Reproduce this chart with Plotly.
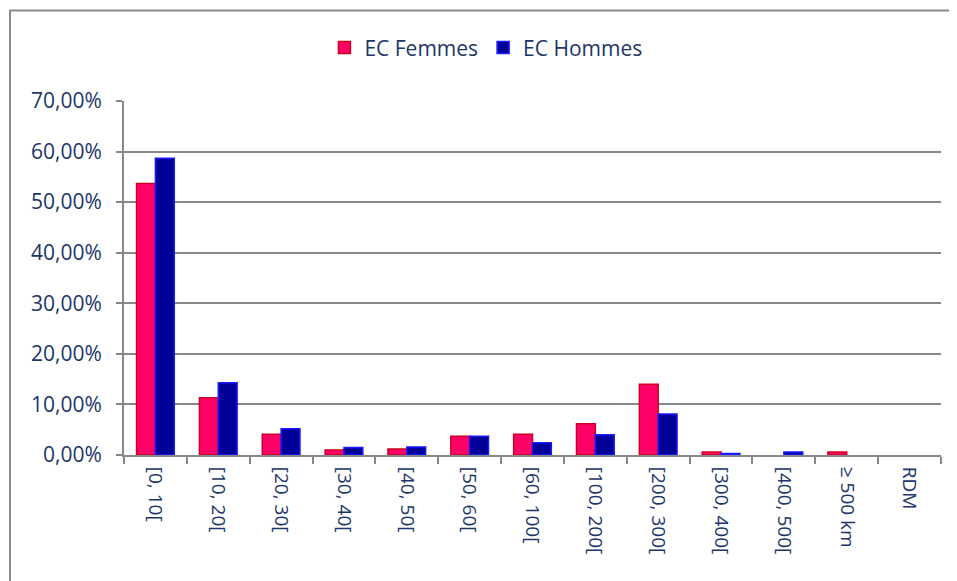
import plotly.graph_objects as go

categories = ["[0, 10[", "[10, 20[", "[20, 30[", "[30, 40[", "[40, 50[", "[50, 60[",
              "[60, 100[", "[100, 200[", "[200, 300[", "[300, 400[", "[400, 500[",
              "≥ 500 km", "RDM"]
femmes = [0.537, 0.113, 0.041, 0.010, 0.012, 0.037, 0.041, 0.062, 0.140, 0.006, 0.0, 0.006, 0.0]
hommes = [0.587, 0.143, 0.052, 0.015, 0.016, 0.037, 0.024, 0.040, 0.081, 0.003, 0.006, 0.0, 0.0]
y_ticks = [0, 0.1, 0.2, 0.3, 0.4, 0.5, 0.6, 0.7]

text_color = "#1B3668"
font_family = "Open Sans, Lato, sans-serif"

# page body has an 8px margin: compensate in figure coordinates
L, T = 116, 93
PW, PH = 817, 354
W, H = 957, 581

fig = go.Figure()
fig.add_trace(go.Bar(x=categories, y=femmes, name="EC Femmes",
                     marker=dict(color="#FF0066",
                                 line=dict(color="#CC0022", width=[1.5 if v > 0 else 0 for v in femmes]))))
fig.add_trace(go.Bar(x=categories, y=hommes, name="EC Hommes",
                     marker=dict(color="#000099",
                                 line=dict(color="#1A1AFF", width=[1.5 if v > 0 else 0 for v in hommes]))))

fig.update_layout(
    width=W, height=H,
    margin=dict(l=L, r=W - L - PW, t=T, b=H - T - PH),
    paper_bgcolor="white", plot_bgcolor="white",
    separators=", ",
    barmode="group", bargap=0.4, bargroupgap=0,
    font=dict(family=font_family, color=text_color, size=18),
    legend=dict(orientation="h", x=0.443, xanchor="center", y=1.15, yanchor="middle",
                font=dict(size=21, color=text_color), itemwidth=30, traceorder="normal"),
    showlegend=True,
)
fig.update_xaxes(
    type="category", tickangle=90, tickson="boundaries",
    ticks="outside", ticklen=7, tickcolor="#888888", tickwidth=2,
    showline=True, linecolor="#888888", linewidth=2,
    showgrid=False, tickfont=dict(size=19, color=text_color),
    ticklabelstandoff=6,
)
fig.update_yaxes(
    range=[0, 0.7], tickvals=y_ticks, tickformat=".2%",
    ticks="outside", ticklen=6, tickcolor="#888888", tickwidth=2,
    showline=True, linecolor="#888888", linewidth=2,
    showgrid=True, gridcolor="#888888", gridwidth=1.5,
    zeroline=False, tickfont=dict(size=21, color=text_color),
    ticklabelstandoff=10,
)
# outer chart frame
fig.add_shape(type="rect", xref="paper", yref="paper",
              x0=(2 - L) / PW, x1=1.2, y0=-0.6, y1=1 + (T - 2.5) / PH,
              line=dict(color="#8C8C8C", width=2), fillcolor="rgba(0,0,0,0)", layer="below")

fig.write_html("out.html")
